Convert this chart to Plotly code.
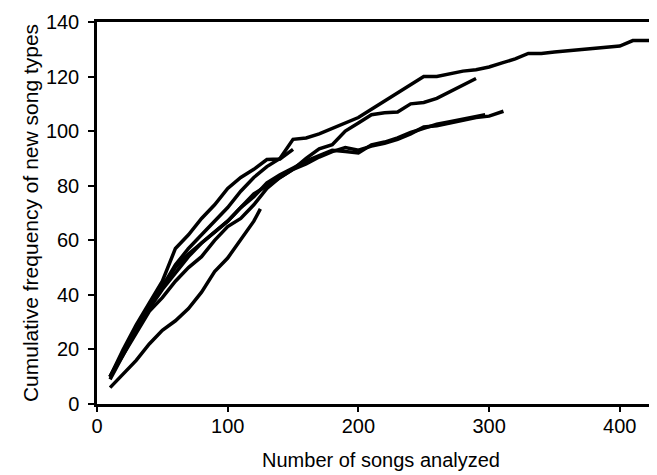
import plotly.graph_objects as go

# Cumulative new song types vs number of songs analyzed (one line per bird/recording set)
x_l1 = [10, 20, 30, 40, 50, 60, 70, 80, 90, 100, 110, 120, 130, 140, 150, 160, 170, 180, 190, 200,
        210, 220, 230, 240, 250, 260, 270, 280, 290, 300, 310, 320, 330, 340, 350, 360, 370, 380,
        390, 400, 410, 420, 428]
y_l1 = [10, 19, 28, 36, 43, 51, 57, 62, 67, 72, 78, 83, 87, 90, 97, 97.5, 99, 101, 103, 105,
        108, 111, 114, 117, 120, 120, 121, 122, 122.5, 123.5, 125, 126.5, 128.5, 128.5, 129,
        129.5, 130, 130.2, 131, 131.2, 133.2, 133.2, 133.2]

x_l2 = [10, 20, 30, 40, 50, 60, 70, 80, 90, 100, 110, 120, 130, 140, 150, 160, 170, 180, 190, 200,
        210, 220, 230, 240, 250, 260, 270, 280, 290]
y_l2 = [10, 18, 27, 35, 42, 48, 54, 59, 63, 67, 72, 77, 80, 83, 86, 90, 93.5, 95, 100, 103,
        106, 106.7, 107, 110, 110.5, 112, 114.5, 117, 119.3]

x_l3 = [10, 20, 30, 40, 50, 60, 70, 80, 90, 100, 110, 120, 130, 140, 150, 160, 170, 180, 190, 200,
        210, 220, 230, 240, 250, 260, 270, 280, 290, 300, 311]
y_l3 = [9, 18, 26, 34, 39, 45, 50, 54, 60, 65, 68, 73, 79, 83, 86, 88, 90.5, 92.5, 94, 93,
        94.5, 95.5, 97, 99, 101.5, 102, 103, 104, 105, 105.5, 107.3]

x_l4 = [10, 20, 30, 40, 50, 60, 70, 80, 90, 100, 110, 120, 130, 140, 150, 160, 170, 180, 190, 200,
        210, 220, 230, 240, 250, 260, 270, 280, 290, 297]
y_l4 = [10, 19, 28, 36, 43, 50, 55, 59, 63, 67, 72, 76, 81, 84, 86.5, 89, 91, 93, 92.5, 92,
        95, 96, 97.5, 99.5, 101, 102.5, 103.5, 104.5, 105.5, 106]

x_l5 = [10, 20, 30, 40, 50, 60, 70, 80, 90, 100, 110, 120, 130, 140, 150]
y_l5 = [10, 20, 29, 37, 45, 57, 62, 68, 73, 79, 83, 86, 89.6, 89.8, 93.3]

x_l6 = [10, 20, 30, 40, 50, 60, 70, 80, 90, 100, 110, 120, 125]
y_l6 = [6, 11, 16, 22, 27, 30.5, 35, 41, 48.5, 53.5, 60.5, 67, 71.5]

series = [(x_l1, y_l1), (x_l2, y_l2), (x_l3, y_l3), (x_l4, y_l4), (x_l5, y_l5), (x_l6, y_l6)]

x_ticks = [0, 100, 200, 300, 400]
y_ticks = [0, 20, 40, 60, 80, 100, 120, 140]

fig = go.Figure()
for xs, ys in series:
    fig.add_trace(go.Scatter(x=xs, y=ys, mode="lines",
                             line=dict(color="black", width=3.5), showlegend=False,
                             hoverinfo="skip"))

font = dict(family="Liberation Sans, Arial, sans-serif", color="black", size=20)
fig.update_layout(
    width=657, height=475,
    margin=dict(l=89, r=0, t=14, b=79),
    paper_bgcolor="white", plot_bgcolor="white",
    font=font,
    xaxis=dict(range=[0, 434.6], tickvals=x_ticks, showgrid=False, zeroline=False,
               showline=True, linecolor="black", linewidth=2.5, mirror=True,
               ticks="outside", ticklen=5, tickwidth=2, tickcolor="black",
               title=dict(text="Number of songs analyzed", standoff=18,
                          font=dict(size=20)),
               ticklabelstandoff=-3, automargin=False),
    yaxis=dict(range=[0, 140], tickvals=y_ticks, showgrid=False, zeroline=False,
               showline=True, linecolor="black", linewidth=2.5,
               ticks="outside", ticklen=6, tickwidth=2, tickcolor="black",
               title=dict(text="Cumulative frequency of new song types", standoff=2,
                          font=dict(size=21)),
               ticklabelstandoff=5, automargin=False),
)
fig.write_html("out.html")
